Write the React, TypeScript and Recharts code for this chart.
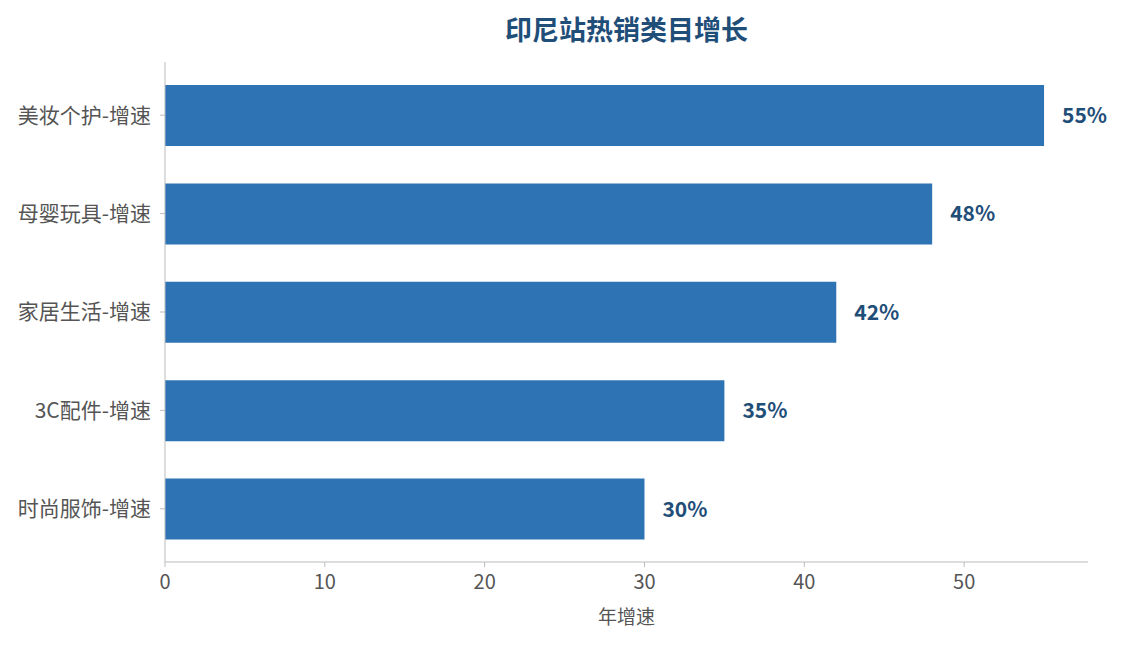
import React from 'react';
import { BarChart, Bar, XAxis, YAxis, LabelList } from 'recharts';

const categories = ['美妆个护-增速', '母婴玩具-增速', '家居生活-增速', '3C配件-增速', '时尚服饰-增速'];
const growth = [55, 48, 42, 35, 30];
const xTicks = [0, 10, 20, 30, 40, 50];

const data = categories.map((c, i) => ({ name: c, value: growth[i] }));

const FONT = '"Noto Sans CJK SC", "Noto Sans", sans-serif';

export default function App() {
  return (
    <div style={{ position: 'absolute', left: 0, top: 0, width: 1123, height: 645, background: '#fff', fontFamily: FONT }}>
      <div style={{ position: 'absolute', left: 165, width: 923, top: 10, textAlign: 'center', fontSize: 27, lineHeight: '38px', fontWeight: 700, color: '#1f4e79' }}>
        印尼站热销类目增长
      </div>
      <BarChart
        width={1123}
        height={645}
        data={data}
        layout="vertical"
        margin={{ top: 62, right: 35, bottom: 43, left: 0 }}
        barCategoryGap={0}
      >
        <XAxis
          type="number"
          domain={[0, 57.75]}
          ticks={xTicks}
          allowDataOverflow
          stroke="#bbbbbb"
          height={40}
          tick={{ fill: '#555555', fontSize: 20, fontFamily: FONT }}
          tickSize={5}
          tickMargin={8}
          label={{ value: '年增速', position: 'insideBottom', offset: -22, fill: '#555555', fontSize: 19, fontFamily: FONT }}
        />
        <YAxis
          type="category"
          dataKey="name"
          width={165}
          stroke="#bbbbbb"
          padding={{ top: 4, bottom: 4 }}
          tick={{ fill: '#555555', fontSize: 21, fontFamily: FONT }}
          tickSize={5}
          tickMargin={9}
        />
        <Bar dataKey="value" fill="#2e74b5" barSize={61} isAnimationActive={false}>
          <LabelList
            dataKey="value"
            position="right"
            offset={18}
            formatter={(v: number) => `${v}%`}
            style={{ fill: '#1f4e79', fontSize: 21, fontWeight: 700, fontFamily: FONT }}
          />
        </Bar>
      </BarChart>
    </div>
  );
}
